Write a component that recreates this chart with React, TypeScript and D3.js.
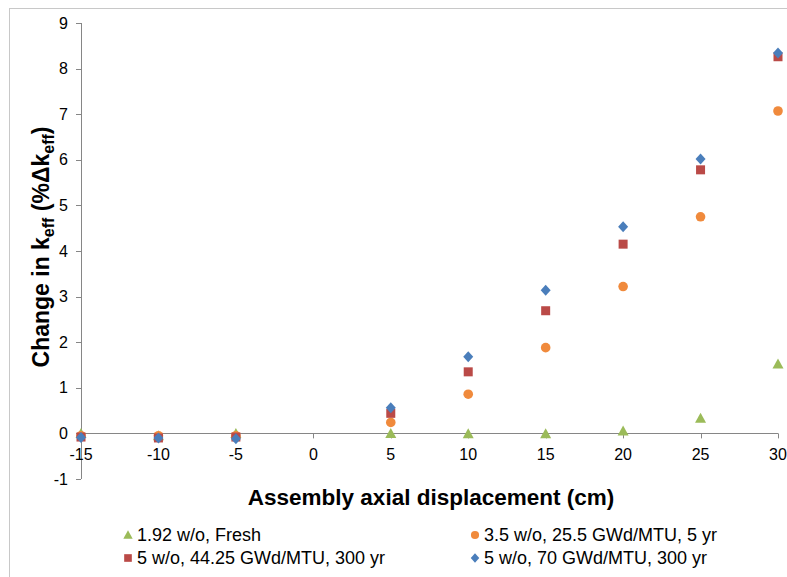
import React from "react";
import * as d3 from "d3";

const xValues = [-15, -10, -5, 5, 10, 15, 20, 25, 30];
const fresh192 = [0.0, -0.05, 0.0, 0.0, -0.01, -0.01, 0.05, 0.33, 1.52];
const burn35 = [-0.05, -0.05, -0.05, 0.24, 0.86, 1.88, 3.22, 4.75, 7.07];
const burn5_44 = [-0.08, -0.1, -0.08, 0.44, 1.35, 2.69, 4.15, 5.78, 8.26];
const burn5_70 = [-0.09, -0.1, -0.12, 0.56, 1.68, 3.14, 4.53, 6.02, 8.34];
const xTicks = [-15, -10, -5, 0, 5, 10, 15, 20, 25, 30];
const yTicks = [-1, 0, 1, 2, 3, 4, 5, 6, 7, 8, 9];

const seriesList = [
  { name: "1.92 w/o, Fresh", values: fresh192, color: "#9BBB59", shape: "triangle" },
  { name: "3.5 w/o, 25.5 GWd/MTU, 5 yr", values: burn35, color: "#F08A3C", shape: "circle" },
  { name: "5 w/o, 44.25 GWd/MTU, 300 yr", values: burn5_44, color: "#BA4A47", shape: "square" },
  { name: "5 w/o, 70 GWd/MTU, 300 yr", values: burn5_70, color: "#4A7EBB", shape: "diamond" },
];

const W = 787, H = 577;
const left = 81, right = 778, top = 23, bottom = 479;
const x = d3.scaleLinear().domain([-15, 30]).range([left, right]);
const y = d3.scaleLinear().domain([-1, 9]).range([bottom, top]);
const font = "'Liberation Sans', Arial, sans-serif";
const axisColor = "#868686";

function Marker({ shape, color, cx, cy, s = 1 }: { shape: string; color: string; cx: number; cy: number; s?: number }) {
  if (shape === "circle") return <circle cx={cx} cy={cy} r={4.8 * s} fill={color} />;
  if (shape === "square") return <rect x={cx - 4.5 * s} y={cy - 4.5 * s} width={9 * s} height={9 * s} fill={color} />;
  if (shape === "diamond")
    return <path d={`M${cx},${cy - 5.5 * s}L${cx + 5 * s},${cy}L${cx},${cy + 5.5 * s}L${cx - 5 * s},${cy}Z`} fill={color} />;
  return <path d={`M${cx},${cy - 5.5 * s}L${cx + 5.5 * s},${cy + 4.5 * s}L${cx - 5.5 * s},${cy + 4.5 * s}Z`} fill={color} />;
}

export default function App() {
  const y0 = y(0);
  const legendPos = [
    { mx: 128, my: 535 },
    { mx: 475, my: 535 },
    { mx: 128, my: 558 },
    { mx: 475, my: 558 },
  ];
  return (
    <svg width={W} height={H} style={{ position: "absolute", left: 0, top: 0, background: "#fff" }} fontFamily={font}>
      <rect x={9.5} y={8.5} width={780} height={580} fill="#fff" stroke="#c8c8c8" strokeWidth={1} />
      {/* y axis */}
      <line x1={left + 0.5} x2={left + 0.5} y1={top} y2={bottom} stroke={axisColor} />
      {yTicks.map((t) => (
        <g key={t}>
          <line x1={left - 5} x2={left} y1={Math.round(y(t)) + 0.5} y2={Math.round(y(t)) + 0.5} stroke={axisColor} />
          <text x={left - 13} y={y(t)} dy="0.35em" textAnchor="end" fontSize={16} fill="#000">
            {t}
          </text>
        </g>
      ))}
      {/* x axis at y=0 */}
      <line x1={left} x2={right} y1={Math.round(y0) + 0.5} y2={Math.round(y0) + 0.5} stroke={axisColor} />
      {xTicks.map((t) => (
        <g key={t}>
          <line x1={Math.round(x(t)) + 0.5} x2={Math.round(x(t)) + 0.5} y1={y0} y2={y0 + 5} stroke={axisColor} />
          <text x={x(t)} y={y0 + 21} dy="0.35em" textAnchor="middle" fontSize={16} fill="#000">
            {t}
          </text>
        </g>
      ))}
      {/* markers */}
      {seriesList.map((s) => (
        <g key={s.name}>
          {s.values.map((v, i) => (
            <Marker key={i} shape={s.shape} color={s.color} cx={x(xValues[i])} cy={y(v)} />
          ))}
        </g>
      ))}
      {/* axis titles */}
      <text
        transform={`translate(49,247) rotate(-90)`}
        textAnchor="middle"
        fontSize={23}
        fontWeight="bold"
        fill="#000"
      >
        Change in k<tspan fontSize={16} dy={5}>eff</tspan>
        <tspan dy={-5}> (%Δk</tspan>
        <tspan fontSize={16} dy={5}>eff</tspan>
        <tspan dy={-5}>)</tspan>
      </text>
      <text x={431} y={505} textAnchor="middle" fontSize={22.5} fontWeight="bold" fill="#000">
        Assembly axial displacement (cm)
      </text>
      {/* legend */}
      {seriesList.map((s, i) => (
        <g key={s.name}>
          <Marker shape={s.shape} color={s.color} cx={legendPos[i].mx} cy={legendPos[i].my} s={0.85} />
          <text x={legendPos[i].mx + 9} y={legendPos[i].my} dy="0.36em" fontSize={18} fill="#000">
            {s.name}
          </text>
        </g>
      ))}
    </svg>
  );
}
